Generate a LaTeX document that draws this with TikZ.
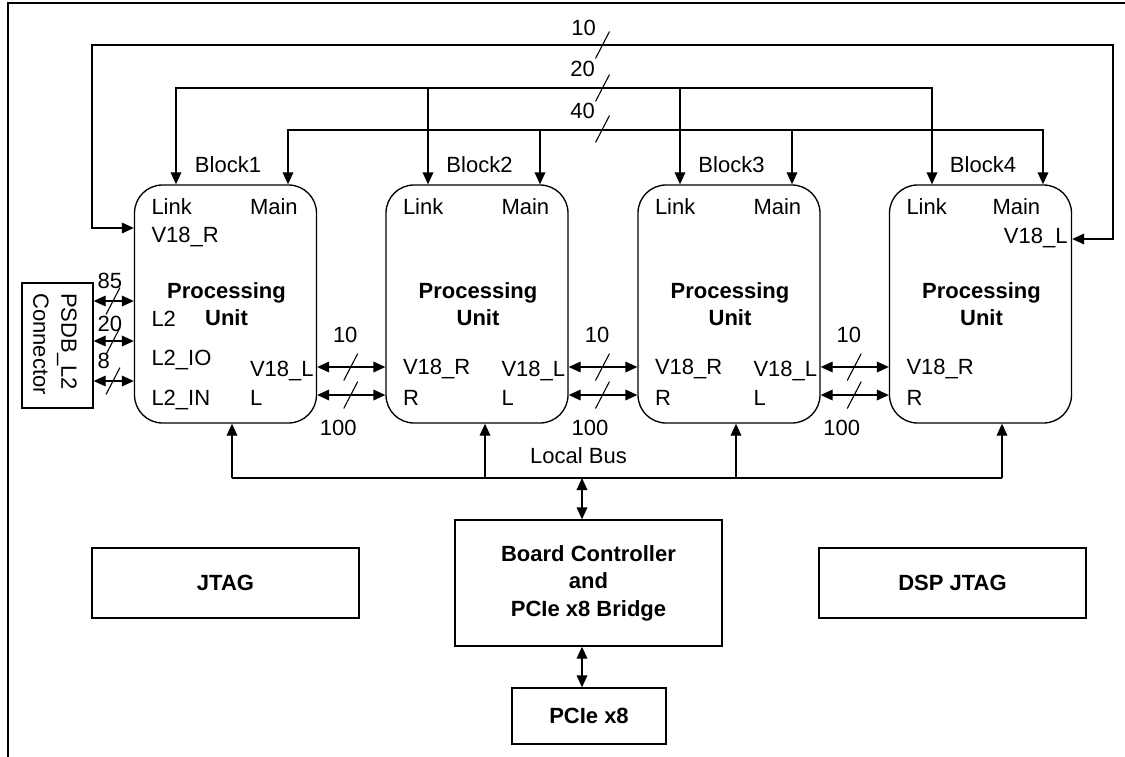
\documentclass[tikz,border=0pt]{standalone}
\usepackage{fontspec}
\setmainfont{Liberation Sans}
\usetikzlibrary{arrows.meta,calc}

% short bus-width tick across a line
\newcommand{\bwtick}[1]{\draw[tick] ($(#1)+(-7,13.5)$) -- ($(#1)+(7,-13.5)$);}

\begin{document}
\begin{tikzpicture}[x=0.75pt,y=-0.75pt,
  line width=1pt,
  font=\fontsize{16.5}{20.25}\selectfont,
  arr/.style={-{Triangle[length=9pt,width=8pt]}},
  dbl/.style={{Triangle[length=9pt,width=8pt]}-{Triangle[length=9pt,width=8pt]}},
  pu/.style={draw,rounded corners=21pt,minimum width=136.5pt,minimum height=178.5pt,inner sep=0pt},
  box/.style={draw,inner sep=0pt,align=center,font=\fontsize{16.5}{20.6}\selectfont\bfseries},
  lbl/.style={inner sep=0pt},
  tick/.style={line width=0.8pt}
]
\useasboundingbox (0,0) rectangle (1125,757);

% outer frame
\draw (8,757) -- (8,3) -- (1125,3);

% processing blocks
\foreach \i/\c in {1/225.5,2/477,3/729,4/980.5}{
  \node[pu] (b\i) at (\c,304) {};
  \node[lbl,anchor=base] (blk\i) at ($(b\i.north)+(2.5,-12)$) {Block\i};
  \node[lbl,anchor=base west] (lnk\i) at ($(b\i.north west)+(17,30)$) {Link};
  \node[lbl,align=center,font=\fontsize{16.5}{20.25}\selectfont\bfseries] (pun\i) at ($(b\i.center)+(1,0)$) {Processing\\Unit};
}
\foreach \i in {1,2,3}{
  \node[lbl,anchor=base west] (mn\i) at ($(b\i.north west)+(115.5,30)$) {Main};
}
\node[lbl,anchor=base west] (mn4) at ($(b4.north west)+(103,30)$) {Main};

% block 1 ports
\node[lbl,anchor=base west] (p1vr) at ($(b1.north west)+(17,58)$) {V18\_R};
\node[lbl,anchor=base west] (p1l2) at ($(b1.north west)+(17,142)$) {L2};
\node[lbl,anchor=base west] (p1io) at ($(b1.north west)+(17,181)$) {L2\_IO};
\node[lbl,anchor=base west] (p1in) at ($(b1.north west)+(17,221)$) {L2\_IN};
\node[lbl,anchor=base west] (p1vl) at ($(b1.north west)+(115.5,192)$) {V18\_L};
\node[lbl,anchor=base west] (p1l) at ($(b1.north west)+(115.5,221)$) {L};
% blocks 2 and 3 ports
\foreach \i in {2,3}{
  \node[lbl,anchor=base west] (p\i vr) at ($(b\i.north west)+(17,190)$) {V18\_R};
  \node[lbl,anchor=base west] (p\i r) at ($(b\i.north west)+(17,221)$) {R};
  \node[lbl,anchor=base west] (p\i vl) at ($(b\i.north west)+(115.5,192)$) {V18\_L};
  \node[lbl,anchor=base west] (p\i l) at ($(b\i.north west)+(115.5,221)$) {L};
}
% block 4 ports
\node[lbl,anchor=base east] (p4vt) at ($(b4.north east)+(-4,59)$) {V18\_L};
\node[lbl,anchor=base west] (p4vr) at ($(b4.north west)+(17,190)$) {V18\_R};
\node[lbl,anchor=base west] (p4r) at ($(b4.north west)+(17,221)$) {R};

% 10-bit V18 ring around all blocks
\coordinate (r10a) at (92,45);
\coordinate (r10b) at (1113,45);
\draw[dbl] (b1.west |- 0,228) -| (r10a) -- (r10b) |- (b4.east |- 0,239);
\coordinate (t10) at (602.5,45);
\bwtick{t10}
\node[lbl,anchor=base] (n10) at (583.5,35) {10};

% 20-bit link bus
\coordinate (r20a) at (176,88);
\coordinate (r20b) at (932,88);
\coordinate (j20b) at (428,88);
\coordinate (j20c) at (680,88);
\draw[dbl] (r20a |- b1.north) -- (r20a) -- (r20b) -- (r20b |- b4.north);
\draw[arr] (j20b) -- (j20b |- b2.north);
\draw[arr] (j20c) -- (j20c |- b3.north);
\coordinate (t20) at (602.5,88);
\bwtick{t20}
\node[lbl,anchor=base] (n20) at (582.5,76) {20};

% 40-bit main bus
\coordinate (r40a) at (288,130);
\coordinate (r40b) at (1043,130);
\coordinate (j40b) at (540,130);
\coordinate (j40c) at (792,130);
\draw[dbl] (r40a |- b1.north) -- (r40a) -- (r40b) -- (r40b |- b4.north);
\draw[arr] (j40b) -- (j40b |- b2.north);
\draw[arr] (j40c) -- (j40c |- b3.north);
\coordinate (t40) at (602.5,129);
\bwtick{t40}
\node[lbl,anchor=base] (n40) at (582.5,118) {40};

% links between neighbouring blocks
\foreach \a/\b/\g in {1/2/351.25,2/3/603,3/4/854.75}{
  \draw[dbl] (b\a.east |- 0,367) -- (b\b.west |- 0,367);
  \draw[dbl] (b\a.east |- 0,395) -- (b\b.west |- 0,395);
  \coordinate (ta\a) at (\g-0.5,367);
  \coordinate (tb\a) at (\g-0.5,395);
  \bwtick{ta\a}
  \bwtick{tb\a}
  \node[lbl,anchor=base] (na\a) at (\g-6,342) {10};
  \node[lbl,anchor=base] (nb\a) at (\g-13,435) {100};
}

% PSDB_L2 connector
\node[draw,minimum width=53.25pt,minimum height=93.75pt,inner sep=0pt] (conn) at (57.5,345.5) {};
\node[lbl,rotate=-90,align=left,font=\fontsize{16.5}{21}\selectfont] (conntxt) at (55,344) {PSDB\_L2\\Connector};
\foreach \y/\k in {301/a,341/b,381/c}{
  \draw[dbl] (conn.east |- 0,\y) -- (b1.west |- 0,\y);
  \coordinate (tc\k) at (113,\y);
  \bwtick{tc\k}
}
\node[lbl,anchor=base west] (c85) at (97,288) {85};
\node[lbl,anchor=base west] (c20) at (97,331) {20};
\node[lbl,anchor=base west] (c8) at (97,368) {8};

% local bus
\coordinate (bus1) at (232,478);
\coordinate (bus2) at (485,478);
\coordinate (bus3) at (736,478);
\coordinate (bus4) at (1002,478);
\coordinate (busj) at (582,478);
\draw (bus1) -- (bus4);
\draw[arr] (bus1) -- (bus1 |- b1.south);
\draw[arr] (bus2) -- (bus2 |- b2.south);
\draw[arr] (bus3) -- (bus3 |- b3.south);
\draw[arr] (bus4) -- (bus4 |- b4.south);
\node[lbl,anchor=base] (lbus) at (578.5,463) {Local Bus};

% board controller, PCIe and JTAG
\node[box,minimum width=200.25pt,minimum height=94.5pt] (bc) at (588.5,583) {Board Controller\\and\\PCIe x8 Bridge};
\node[box,minimum width=115.5pt,minimum height=42pt] (pcie) at (589,716) {PCIe x8};
\node[box,minimum width=200.25pt,minimum height=52.5pt] (jtag) at (225.5,583) {JTAG};
\node[box,minimum width=200.25pt,minimum height=52.5pt] (djtag) at (952.5,583) {DSP JTAG};
\draw[dbl] (busj) -- (busj |- bc.north);
\draw[dbl] (bc.south -| busj) -- (pcie.north -| busj);
\end{tikzpicture}
\end{document}
